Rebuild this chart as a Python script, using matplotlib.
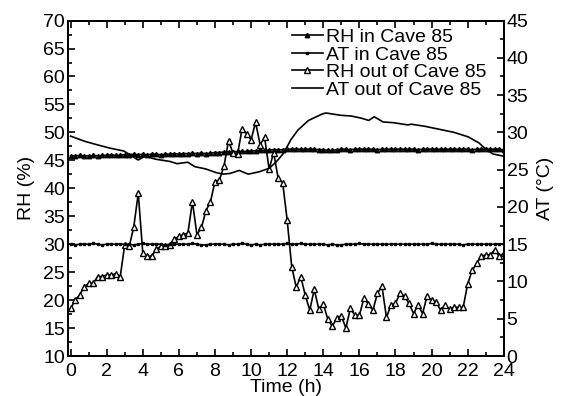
import matplotlib
matplotlib.use("Agg")
import matplotlib.pyplot as plt
import numpy as np
from matplotlib.ticker import MultipleLocator

plt.rcParams['font.family'] = ['Liberation Sans', 'DejaVu Sans']
plt.rcParams['font.size'] = 13

# 15-min logging interval, 0 - 24 h (97 records)
time_h = np.arange(97) * 0.25

rh_in = [45.8, 45.8, 45.9, 45.8, 45.8, 45.9, 45.8, 45.9, 45.9, 46.0, 45.9, 45.9,
         46.0, 46.0, 46.1, 46.0, 46.1, 46.0, 46.1, 46.1, 46.0, 46.1, 46.1, 46.2,
         46.1, 46.2, 46.2, 46.3, 46.2, 46.3, 46.2, 46.3, 46.4, 46.4, 46.5, 46.5,
         46.5, 46.6, 46.6, 46.6, 46.7, 46.7, 46.8, 46.8, 46.8, 46.9, 46.9, 46.9,
         47.0, 47.0, 47.0, 47.0, 47.0, 47.0, 47.0, 46.9, 46.9, 46.8, 46.8, 46.9,
         47.0, 47.0, 46.9, 47.0, 47.0, 47.0, 47.0, 47.0, 46.9, 47.0, 47.0, 47.0,
         47.0, 47.0, 47.0, 47.0, 47.0, 46.9, 47.0, 47.0, 47.0, 47.0, 47.0, 47.0,
         47.0, 47.0, 47.0, 47.0, 47.0, 46.9, 47.0, 47.0, 47.0, 47.0, 47.0, 47.0, 46.9]

at_in = [15.0, 14.9, 15.0, 15.0, 15.0, 15.1, 15.0, 14.9, 15.0, 15.0, 15.0, 15.0,
         15.0, 15.0, 14.9, 15.0, 15.1, 15.0, 15.0, 15.0, 15.0, 14.9, 15.0, 15.0,
         15.0, 15.0, 15.0, 15.1, 15.0, 14.9, 14.9, 15.0, 15.0, 15.0, 15.0, 14.9,
         15.0, 15.0, 15.1, 15.0, 14.9, 15.0, 14.9, 15.0, 15.0, 15.0, 15.0, 15.0,
         15.1, 15.0, 15.0, 15.1, 15.0, 15.0, 15.0, 15.0, 15.0, 14.9, 15.0, 14.9,
         14.9, 15.0, 15.0, 15.0, 15.1, 15.0, 15.0, 15.0, 15.0, 15.0, 15.0, 15.0,
         15.0, 15.0, 15.0, 15.0, 15.0, 15.0, 15.0, 15.0, 15.1, 15.0, 15.0, 15.0,
         15.0, 15.0, 15.0, 14.9, 15.0, 15.0, 15.0, 15.0, 15.0, 15.0, 15.0, 15.0, 15.0]

rh_out = [18.5, 20.0, 20.9, 22.4, 23.0, 23.0, 24.2, 24.2, 24.5, 24.5, 24.7, 24.2,
          29.9, 29.6, 33.1, 39.1, 28.4, 27.8, 27.9, 29.1, 29.6, 29.7, 29.9, 30.9,
          31.4, 31.7, 32.0, 37.6, 31.7, 33.0, 36.0, 37.6, 41.2, 41.5, 44.0, 48.5,
          46.3, 46.1, 50.6, 49.8, 48.7, 51.8, 47.8, 49.1, 43.4, 46.4, 41.8, 41.0,
          34.3, 26.0, 22.3, 24.2, 20.9, 18.2, 21.9, 18.4, 19.3, 16.6, 15.3, 16.8,
          17.2, 15.0, 18.5, 17.3, 17.3, 20.3, 19.3, 18.2, 21.2, 22.5, 16.9, 19.1,
          19.4, 21.2, 20.7, 19.4, 17.6, 19.1, 17.6, 20.7, 20.0, 19.6, 18.2, 19.1,
          18.4, 18.7, 18.7, 18.7, 22.9, 25.3, 26.6, 27.8, 28.1, 28.1, 29.0, 27.8, 28.4]

at_out_time = [0, 0.79, 1.38, 2.16, 2.95, 3.15, 3.74, 4.13, 4.72, 5.51, 5.90, 6.49,
               6.89, 7.48, 8.07, 8.46, 8.85, 9.34, 9.84, 10.43, 11.02, 11.41, 11.80,
               12.20, 12.59, 13.18, 13.97, 14.16, 14.95, 15.54, 16.13, 16.52, 16.82,
               17.31, 17.90, 18.69, 18.88, 19.67, 20.46, 21.25, 22.03, 22.62, 23.02,
               23.41, 24.0]
at_out = [29.5, 28.8, 28.4, 27.9, 27.5, 27.2, 26.3, 26.8, 26.4, 26.1, 25.8, 26.0,
          25.4, 25.1, 24.6, 24.4, 24.5, 24.9, 24.4, 24.7, 25.2, 26.1, 27.2,
          29.0, 30.3, 31.6, 32.5, 32.6, 32.3, 32.2, 31.9, 31.6, 32.1,
          31.4, 31.3, 31.0, 31.1, 30.8, 30.4, 30.0, 29.4, 28.6, 27.7,
          27.1, 26.8]

fig, ax = plt.subplots(figsize=(5.61, 3.96), dpi=100)
fig.subplots_adjust(left=0.121, right=0.898, bottom=0.101, top=0.948)
ax2 = ax.twinx()

l1, = ax.plot(time_h, rh_in, color='black', lw=1.2, marker='^', ms=3.2,
              label='RH in Cave 85')
l3, = ax.plot(time_h, rh_out, color='black', lw=1.2, marker='^', ms=4.5,
              markerfacecolor='white', markeredgewidth=1.0, label='RH out of Cave 85')
l2, = ax2.plot(time_h, at_in, color='black', lw=1.2, marker='s', ms=2.0,
               label='AT in Cave 85')
l4, = ax2.plot(at_out_time, at_out, color='black', lw=1.2, label='AT out of Cave 85')

ax.set_xlim(-0.15, 24)
ax.set_ylim(10, 70)
ax2.set_ylim(0, 45)

ax.xaxis.set_major_locator(MultipleLocator(2))
ax.xaxis.set_minor_locator(MultipleLocator(1))
ax.yaxis.set_major_locator(MultipleLocator(5))
ax.yaxis.set_minor_locator(MultipleLocator(2.5))
ax2.yaxis.set_major_locator(MultipleLocator(5))
ax2.yaxis.set_minor_locator(MultipleLocator(2.5))

ax.tick_params(which='both', direction='in', top=True, right=False, labelsize=14, width=1.2)
ax.tick_params(axis='x', pad=5)
ax.tick_params(axis='y', pad=2)
ax.tick_params(which='major', length=5)
ax.tick_params(which='minor', length=3)
ax2.tick_params(which='both', direction='in', labelsize=14, width=1.2, pad=2)
ax2.tick_params(which='major', length=5)
ax2.tick_params(which='minor', length=3)
for sp in ax.spines.values():
    sp.set_linewidth(1.3)
for sp in ax2.spines.values():
    sp.set_linewidth(1.3)

ax.set_xlabel('Time (h)', fontsize=14, labelpad=-1)
ax.set_ylabel('RH (%)', fontsize=14, labelpad=6)
ax2.set_ylabel('AT (°C)', fontsize=14, labelpad=6)

ax2.legend([l1, l2, l3, l4], [h.get_label() for h in [l1, l2, l3, l4]],
           loc='upper left', bbox_to_anchor=(0.496, 1.0), frameon=False,
           fontsize=14, handlelength=1.6, handletextpad=0.15, labelspacing=0.0,
           borderaxespad=0.0)

plt.savefig('out.png', dpi=100)
